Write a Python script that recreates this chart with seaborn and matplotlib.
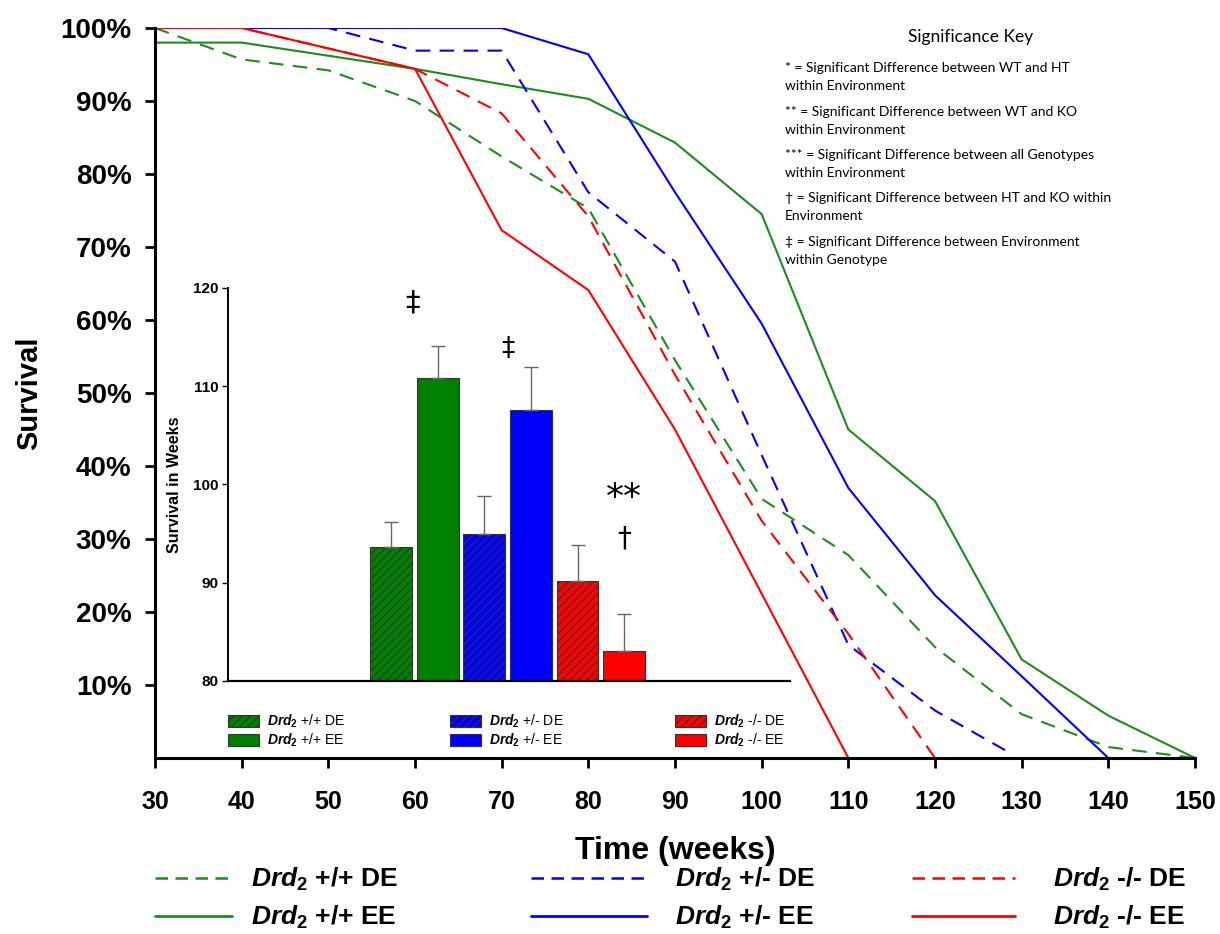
import pandas as pd
import matplotlib
matplotlib.use('Agg')
import matplotlib.pyplot as plt
from matplotlib import font_manager
from matplotlib.patches import Patch
from matplotlib.lines import Line2D
import seaborn as sns

# survival curves (% alive)
weeks_wt_de = [30, 40, 50, 60, 70, 80, 90, 100, 110, 120, 130, 140, 150]
surv_wt_de = [100, 95.7, 94.2, 90, 82.4, 75.3, 54.5, 35.5, 27.8, 15.2, 6, 1.5, 0]
weeks_wt_ee = [30, 40, 50, 60, 70, 80, 90, 100, 110, 120, 130, 140, 150]
surv_wt_ee = [98, 98, 96.2, 94.4, 92.3, 90.3, 84.3, 74.5, 45, 35.2, 13.5, 5.8, 0]
weeks_ht_de = [30, 40, 50, 60, 70, 80, 90, 100, 110, 120, 128.5]
surv_ht_de = [100, 100, 100, 96.9, 96.9, 77.5, 68, 41.5, 15.5, 6.5, 0.8]
weeks_ht_ee = [30, 40, 50, 60, 70, 80, 90, 100, 110, 120, 130, 140]
surv_ht_ee = [100, 100, 100, 100, 100, 96.4, 77.5, 59.5, 37, 22.3, 11.2, 0]
weeks_ko_de = [30, 40, 50, 60, 70, 80, 90, 100, 110, 120]
surv_ko_de = [100, 100, 97.2, 94.4, 88.3, 74.2, 52.5, 32.5, 17, 0]
weeks_ko_ee = [30, 40, 50, 60, 70, 80, 90, 100, 110]
surv_ko_ee = [100, 100, 97.2, 94.4, 72.3, 64.1, 45, 22.5, 0]

# inset: mean survival in weeks +/- error
bar_groups = ['+/+ DE', '+/+ EE', '+/- DE', '+/- EE', '-/- DE', '-/- EE']
bar_weeks = [93.6, 110.8, 95.0, 107.6, 90.2, 83.1]
bar_err = [2.6, 3.3, 3.8, 4.4, 3.6, 3.7]
bar_marks = ['\u2021', '\u2021', '**', '\u2020']

y_ticks = [10, 20, 30, 40, 50, 60, 70, 80, 90, 100]
x_ticks = list(range(30, 151, 10))

key_title = 'Significance Key'
key_lines = ['* = Significant Difference between WT and HT', 'within Environment',
             '** = Significant Difference between WT and KO', 'within Environment',
             '*** = Significant Difference between all Genotypes', 'within Environment',
             '\u2020 = Significant Difference between HT and KO within', 'Environment',
             '\u2021 = Significant Difference between Environment', 'within Genotype']

green, blue, red = '#1c8c1c', '#0000ff', '#ff0000'
bar_colors = ['#008000', '#008000', '#0000ff', '#0000ff', '#ff0000', '#ff0000']

sns.set_style('ticks')
names = {f.name for f in font_manager.fontManager.ttflist}
narrow = 'Liberation Sans Narrow' if 'Liberation Sans Narrow' in names else 'Liberation Sans'
plt.rcParams['font.family'] = ['Liberation Sans', 'DejaVu Sans']
plt.rcParams['mathtext.fontset'] = 'custom'
plt.rcParams['mathtext.it'] = narrow + ':italic:bold'
plt.rcParams['mathtext.rm'] = narrow + ':bold'
plt.rcParams['hatch.linewidth'] = 0.8
for k in ['text.color', 'axes.labelcolor', 'xtick.color', 'ytick.color', 'axes.edgecolor']:
    plt.rcParams[k] = 'black'

def lbl(g):
    return r'$\mathit{Drd}_{\mathit{2}}$ ' + g

frames = []
for g, env, w, s in [('+/+', 'DE', weeks_wt_de, surv_wt_de), ('+/+', 'EE', weeks_wt_ee, surv_wt_ee),
                     ('+/-', 'DE', weeks_ht_de, surv_ht_de), ('+/-', 'EE', weeks_ht_ee, surv_ht_ee),
                     ('-/-', 'DE', weeks_ko_de, surv_ko_de), ('-/-', 'EE', weeks_ko_ee, surv_ko_ee)]:
    frames.append(pd.DataFrame({'week': w, 'survival': s, 'geno': g, 'env': env}))
curves = pd.concat(frames, ignore_index=True)

fig = plt.figure(figsize=(12.2, 9.34), dpi=100)
ax = fig.add_axes([155/1220, 1-758/934, 1040/1220, 730/934])
sns.lineplot(data=curves, x='week', y='survival', hue='geno', style='env',
             palette={'+/+': green, '+/-': blue, '-/-': red},
             dashes={'DE': (7, 4.5), 'EE': ''}, linewidth=1.5, estimator=None,
             sort=False, legend=False, ax=ax)
ax.set_xlim(30, 150)
ax.set_ylim(0, 100)
ax.set_xticks(x_ticks)
ax.set_yticks(y_ticks)
ax.set_yticklabels([f'{v}%' for v in y_ticks], fontsize=20, fontweight='bold')
ax.set_xticklabels([str(v) for v in x_ticks], fontsize=18, fontweight='bold', family=narrow)
ax.tick_params(length=7, width=2, pad=16)
ax.tick_params(axis='y', pad=10)
for sp in ['left', 'bottom']:
    ax.spines[sp].set_linewidth(2.2)
ax.spines['right'].set_visible(False)
ax.spines['top'].set_visible(False)
ax.set_xlabel('Time (weeks)', fontsize=23, fontweight='bold', family=narrow, labelpad=16)
ax.set_ylabel('Survival', fontsize=21, fontweight='bold', labelpad=12)

# inset bar chart
ins = fig.add_axes([228/1220, 1-681/934, 562/1220, 393/934])
bars = pd.DataFrame({'group': bar_groups, 'weeks': bar_weeks})
sns.barplot(data=bars, x='group', y='weeks', hue='group', order=bar_groups,
            palette=dict(zip(bar_groups, bar_colors)), width=0.9, saturation=1,
            edgecolor='#333333', linewidth=0.8, legend=False, ax=ins)
centers = []
for i, cont in enumerate(ins.containers):
    for p in cont.patches:
        if bar_groups[i].endswith('DE'):
            p.set_hatch('////')
        centers.append(p.get_x() + p.get_width() / 2)
ins.errorbar(centers, bar_weeks, yerr=[[0]*len(bar_err), bar_err], fmt='none',
             ecolor='#666666', elinewidth=1, capsize=5, capthick=1)
ins.set_ylim(80, 120)
ins.set_xlim(-3.5, 8.56)
ins.set_yticks([80, 90, 100, 110, 120])
ins.set_yticklabels(['80', '90', '100', '110', '120'], fontsize=11, fontweight='bold')
ins.tick_params(axis='y', length=4, width=1, pad=3)
ins.tick_params(axis='x', length=0, labelbottom=False)
ins.set_xlabel('')
ins.set_ylabel('Survival in Weeks', fontsize=11.5, fontweight='bold', labelpad=8)
ins.patch.set_alpha(0)
for sp in ['right', 'top']:
    ins.spines[sp].set_visible(False)
ins.spines['left'].set_linewidth(1.4)
ins.spines['bottom'].set_linewidth(1.6)

ins.text(0.45, 118.5, bar_marks[0], fontsize=21, ha='center', va='center', family='DejaVu Sans')
ins.text(2.5, 113.8, bar_marks[1], fontsize=19, ha='center', va='center', family='DejaVu Sans')
ins.text(5, 98.6, bar_marks[2], fontsize=26, ha='center', va='center', family='DejaVu Sans')
ins.text(5, 94.5, bar_marks[3], fontsize=20, ha='center', va='center', family='DejaVu Sans')

# inset legend, three columns
for k, (x0, col) in enumerate([(228, '#008000'), (450, '#0000ff'), (675, '#ff0000')]):
    hs = [Patch(facecolor=col, edgecolor='#333333', hatch='////', linewidth=0.8),
          Patch(facecolor=col, edgecolor='#333333', linewidth=0.8)]
    fig.legend(hs, [lbl(bar_groups[2*k]), lbl(bar_groups[2*k+1])], loc='upper left',
               bbox_to_anchor=(x0/1220, 1-713/934), frameon=False, fontsize=10,
               handlelength=2.2, handleheight=0.9, handletextpad=0.6,
               labelspacing=0.1, borderpad=0, borderaxespad=0)

# main legend below x label
for x0, col, hl, pad in [(155, green, 2.9, 0.75), (531, blue, 4.4, 1.05), (912, red, 3.9, 1.45)]:
    hs = [Line2D([], [], color=col, lw=1.8, dashes=(5, 3)), Line2D([], [], color=col, lw=2)]
    g = ['+/+', '+/-', '-/-'][[green, blue, red].index(col)]
    fig.legend(hs, [lbl(g + ' DE'), lbl(g + ' EE')], loc='upper left',
               bbox_to_anchor=(x0/1220, 1-866/934), frameon=False,
               prop={'family': narrow, 'weight': 'bold', 'size': 19},
               handlelength=hl, handletextpad=pad, labelspacing=0.4,
               borderpad=0, borderaxespad=0)

# significance key
fig.text(971/1220, 1-37/934, key_title, fontsize=12.5, ha='center', va='center', family=['Lato', 'DejaVu Sans'])
key_y = [68, 86, 112, 130, 155, 173, 198, 216, 242, 260]
for t, yy in zip(key_lines, key_y):
    fig.text(785/1220, 1-yy/934, t, fontsize=10, ha='left', va='center', family=['Lato', 'DejaVu Sans'])

fig.savefig('out.png', dpi=100)
